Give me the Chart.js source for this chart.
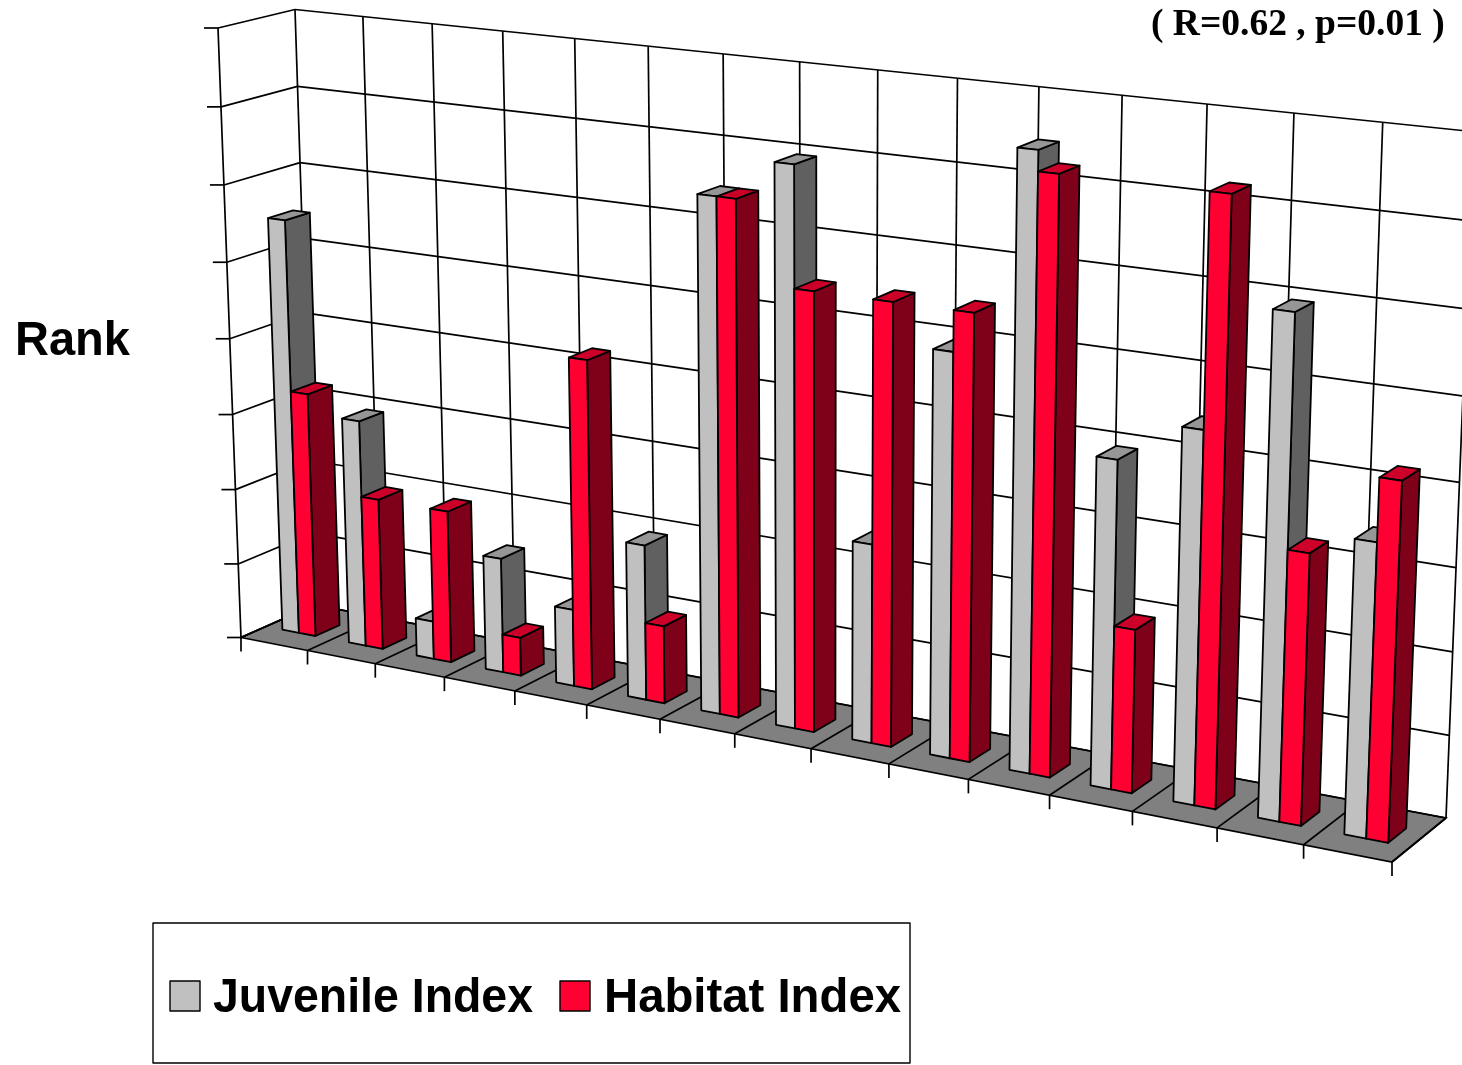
<!DOCTYPE html>
<html>
<head>
<meta charset="utf-8">
<title>Juvenile and Habitat Index</title>
<script src="https://cdn.jsdelivr.net/npm/chart.js@4/dist/chart.umd.js"></script>
<style>
    html, body { margin: 0; padding: 0; background: #fff; overflow: hidden; }
    canvas { display: block; }
</style>
</head>
<body>
<canvas id="rankChart" width="1462" height="1065"></canvas>
<script>
const categories = ['1', '2', '3', '4', '5', '6', '7', '8', '9', '10', '11', '12', '13', '14', '15'];
const juvenileIndex = [11, 6, 1, 3, 2, 4, 13, 14, 5, 10, 15, 8, 9, 12, 7];
const habitatIndex = [6.5, 4, 4, 1, 8.5, 2, 13, 11, 11, 11, 14.5, 4, 14.5, 6.5, 8.5];
const rankMax = 16;
const rankStep = 2;

const statsNote = '( R=0.62 , p=0.01 )';
const axisTitle = 'Rank';

// faces of each series: front, right side, top
const faces = [
    { front: '#C0C0C0', side: '#606060', top: '#969696' },
    { front: '#FF0033', side: '#7F0019', top: '#CC0028' }
];

// corners of the box on the page, bottom-left, bottom-right, top-right, top-left
const frontQuad = [[241, 637.5], [1392, 862], [1419.5, 158], [218, 28]];
const backQuad = [[314.5, 605], [1446, 818], [1473.5, 131.7], [295, 9.5]];
const barDepth = [0.34, 0.67];

// unit square -> quad, the usual projective mapping
function makeHomography(q) {
    const [[x0, y0], [x1, y1], [x2, y2], [x3, y3]] = q;
    const dx1 = x1 - x2, dx2 = x3 - x2, dx3 = x0 - x1 + x2 - x3;
    const dy1 = y1 - y2, dy2 = y3 - y2, dy3 = y0 - y1 + y2 - y3;
    const det = dx1 * dy2 - dx2 * dy1;
    const g = (dx3 * dy2 - dx2 * dy3) / det;
    const h = (dx1 * dy3 - dx3 * dy1) / det;
    return (u, v) => {
        const w = g * u + h * v + 1;
        return [
            ((x1 - x0 + g * x1) * u + (x3 - x0 + h * x3) * v + x0) / w,
            ((y1 - y0 + g * y1) * u + (y3 - y0 + h * y3) * v + y0) / w
        ];
    };
}

const frontPlane = makeHomography(frontQuad);
const backPlane = makeHomography(backQuad);

const project = (u, v, d) => {
    const f = frontPlane(u, v);
    const b = backPlane(u, v);
    return [f[0] + (b[0] - f[0]) * d, f[1] + (b[1] - f[1]) * d];
};

function line(ctx, a, b) {
    ctx.beginPath();
    ctx.moveTo(a[0], a[1]);
    ctx.lineTo(b[0], b[1]);
    ctx.stroke();
}

function face(ctx, pts, fill) {
    ctx.beginPath();
    pts.forEach((p, i) => i ? ctx.lineTo(p[0], p[1]) : ctx.moveTo(p[0], p[1]));
    ctx.closePath();
    ctx.fillStyle = fill;
    ctx.fill();
    ctx.stroke();
}

function drawBox(chart, ctx, toU, toV) {
    const xCount = chart.data.labels.length;
    const yTicks = chart.scales.y.ticks.map(t => toV(chart.scales.y.getPixelForValue(t.value)));

    ctx.strokeStyle = '#000';
    ctx.lineWidth = 1.7;

    face(ctx, [project(0, 0, 0), project(1, 0, 0), project(1, 0, 1), project(0, 0, 1)], '#808080');

    // walls
    yTicks.forEach(v => {
        line(ctx, project(0, v, 0), project(0, v, 1));
        line(ctx, project(0, v, 1), project(1, v, 1));
        const p = project(0, v, 0);
        line(ctx, [p[0] - 14, p[1]], p);
    });
    for (let i = 0; i <= xCount; i++) {
        const u = toU(chart.scales.x.left + chart.scales.x.width * i / xCount);
        line(ctx, project(u, 0, 1), project(u, 1, 1));
        line(ctx, project(u, 0, 0), project(u, 0, 1));
        const p = project(u, 0, 0);
        line(ctx, p, [p[0], p[1] + 14]);
    }
    line(ctx, project(0, 0, 0), project(0, 1, 0));
}

function drawBars(chart, ctx, toU, toV) {
    const [d0, d1] = barDepth;
    const metas = chart.data.datasets.map((_, i) => chart.getDatasetMeta(i));
    ctx.strokeStyle = '#000';
    ctx.lineWidth = 1.8;
    ctx.lineJoin = 'round';

    // left to right, so nearer bars cover the sides of the ones behind them
    chart.data.labels.forEach((_, k) => {
        metas.forEach((meta, s) => {
            const bar = meta.data[k];
            const u0 = toU(bar.x - bar.width / 2);
            const u1 = toU(bar.x + bar.width / 2);
            const v0 = toV(bar.base);
            const v1 = toV(bar.y);
            face(ctx, [project(u1, v0, d0), project(u1, v0, d1), project(u1, v1, d1), project(u1, v1, d0)], faces[s].side);
            face(ctx, [project(u0, v1, d0), project(u1, v1, d0), project(u1, v1, d1), project(u0, v1, d1)], faces[s].top);
            face(ctx, [project(u0, v0, d0), project(u1, v0, d0), project(u1, v1, d0), project(u0, v1, d0)], faces[s].front);
        });
    });
}

function drawNotes(chart, ctx) {
    ctx.fillStyle = '#000';
    ctx.textBaseline = 'alphabetic';
    ctx.textAlign = 'left';

    ctx.font = 'bold 48px "Liberation Sans"';
    ctx.fillText(axisTitle, 15, 355, 115);

    ctx.font = 'bold 37.5px "Liberation Serif"';
    ctx.fillText(statsNote, 1151, 35);

    // legend
    ctx.strokeStyle = '#000';
    ctx.lineWidth = 1.4;
    ctx.strokeRect(153, 923, 757, 140);

    const swatches = [170, 560];
    const labelX = [213, 604];
    const labelWidth = [320, 297];
    chart.data.datasets.forEach((ds, i) => {
        ctx.fillStyle = ds.backgroundColor;
        ctx.fillRect(swatches[i], 981, 30, 30);
        ctx.strokeRect(swatches[i], 981, 30, 30);
        ctx.fillStyle = '#000';
        ctx.font = 'bold 48px "Liberation Sans"';
        ctx.fillText(ds.label, labelX[i], 1011.5, labelWidth[i]);
    });
}

const box3d = {
    id: 'box3d',
    beforeDatasetsDraw(chart) {
        const { ctx, chartArea } = chart;
        const toU = px => (px - chartArea.left) / (chartArea.right - chartArea.left);
        const toV = px => (chartArea.bottom - px) / (chartArea.bottom - chartArea.top);
        ctx.save();
        drawBox(chart, ctx, toU, toV);
        drawBars(chart, ctx, toU, toV);
        drawNotes(chart, ctx);
        ctx.restore();
        // the flat rectangles are replaced by the projected ones
        return false;
    }
};

new Chart(document.getElementById('rankChart'), {
    type: 'bar',
    data: {
        labels: categories,
        datasets: [
            { label: 'Juvenile Index', data: juvenileIndex, backgroundColor: faces[0].front },
            { label: 'Habitat Index', data: habitatIndex, backgroundColor: faces[1].front }
        ]
    },
    options: {
        responsive: false,
        animation: false,
        datasets: { bar: { categoryPercentage: 0.5, barPercentage: 1 } },
        plugins: { legend: { display: false }, title: { display: false }, tooltip: { enabled: false } },
        scales: {
            x: { display: false },
            y: { display: false, min: 0, max: rankMax, ticks: { stepSize: rankStep } }
        }
    },
    plugins: [box3d]
});
</script>
</body>
</html>
